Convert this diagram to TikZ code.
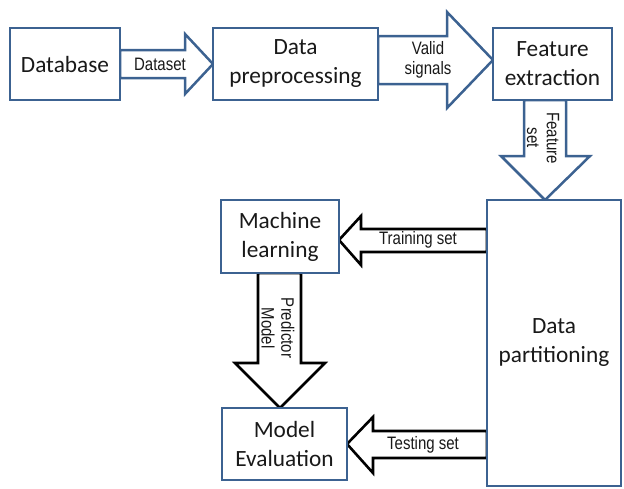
\documentclass[tikz,border=0pt]{standalone}
\usepackage{fontspec}
\setmainfont{Carlito}
\newfontfamily\arialf{Liberation Sans}
\usetikzlibrary{calc,backgrounds}
\definecolor{boxblue}{RGB}{60,98,145}
\begin{document}
\begin{tikzpicture}[x=1pt,y=-1pt,
  box/.style={draw=boxblue, line width=2.5pt, fill=white, inner sep=0pt, outer sep=0pt,
    align=center, font=\fontsize{23.3}{29}\selectfont, text=black!90},
  barrow/.style={draw=boxblue, line width=2.5pt, fill=white, line join=miter},
  karrow/.style={draw=black, line width=2.6pt, fill=white, line join=miter},
  lbl/.style={font=\arialf\fontsize{15}{16.5}\selectfont, align=center, inner sep=0pt, text=black!90}]
\useasboundingbox (0,0) rectangle (624,488);

\node[box, minimum width=110pt, minimum height=72pt] (db) at (65,64) {Database};
\node[box, minimum width=165pt, minimum height=72pt] (dp) at (295.5,64) {Data\\preprocessing};
\node[box, minimum width=119pt, minimum height=72pt] (fe) at (552.5,64) {Feature\\extraction};
\node[box, minimum width=118pt, minimum height=73pt] (ml) at (280,236.5) {Machine\\learning};
\node[box, minimum width=125pt, minimum height=72pt] (me) at (284.5,444) {Model\\Evaluation};
\node[box, minimum width=134pt, minimum height=286pt] (dpart) at (554,343) {Data\\partitioning};

\begin{pgfonlayer}{background}
% Dataset
\draw[barrow] ([yshift=14pt]db.east) -- ++(65,0) -- ++(0,-16) -- (dp.west) -- ++(-28,30)
  -- ++(0,-16) -- ([yshift=-14pt]db.east) -- cycle;
% Valid signals
\draw[barrow] ([yshift=28pt]dp.east) -- ++(69,0) -- ++(0,-24) -- ([yshift=4pt]fe.west)
  -- ++(-46,48) -- ++(0,-24) -- ([yshift=-20pt]dp.east) -- cycle;
% Feature set
\draw[barrow] ([xshift=-28.5pt]fe.south) -- ++(0,56) -- ++(-23,0) -- ([xshift=-9pt]dpart.north)
  -- ++(45,-44) -- ++(-24,0) -- ([xshift=13.5pt]fe.south) -- cycle;
% Training set
\draw[karrow] ([yshift=-3.5pt]ml.east) -- ++(22,-24) -- ++(0,13) coordinate (ta)
  -- (ta -| dpart.west) -- ++(0,23) coordinate (tb) -- (tb -| ta) -- ++(0,13) -- cycle;
% Predictor model
\draw[karrow] ([xshift=-22pt]ml.south) -- ++(0,90) -- ++(-23,0) -- ([xshift=-4.5pt]me.north)
  -- ++(45,-45) -- ++(-24,0) -- ([xshift=21pt]ml.south) -- cycle;
% Testing set
\draw[karrow] (me.east) -- ++(26,-27) -- ++(0,14) coordinate (sa)
  -- (sa -| dpart.west) -- ++(0,27) coordinate (sb) -- (sb -| sa) -- ++(0,15) -- cycle;
\end{pgfonlayer}

\node[lbl, yscale=1.2] (l1) at (160,64) {Dataset};
\node[lbl, yscale=1.2] (l2) at (428,60) {Valid\\signals};
\node[lbl, rotate=-90, yscale=1.2] (l3) at (543,138) {Feature\\set};
\node[lbl, yscale=1.2] (l4) at (418,240) {Training set};
\node[lbl, rotate=-90, yscale=1.2] (l5) at (278,328) {Predictor\\Model};
\node[lbl, yscale=1.2] (l6) at (423,445) {Testing set};
\end{tikzpicture}
\end{document}
